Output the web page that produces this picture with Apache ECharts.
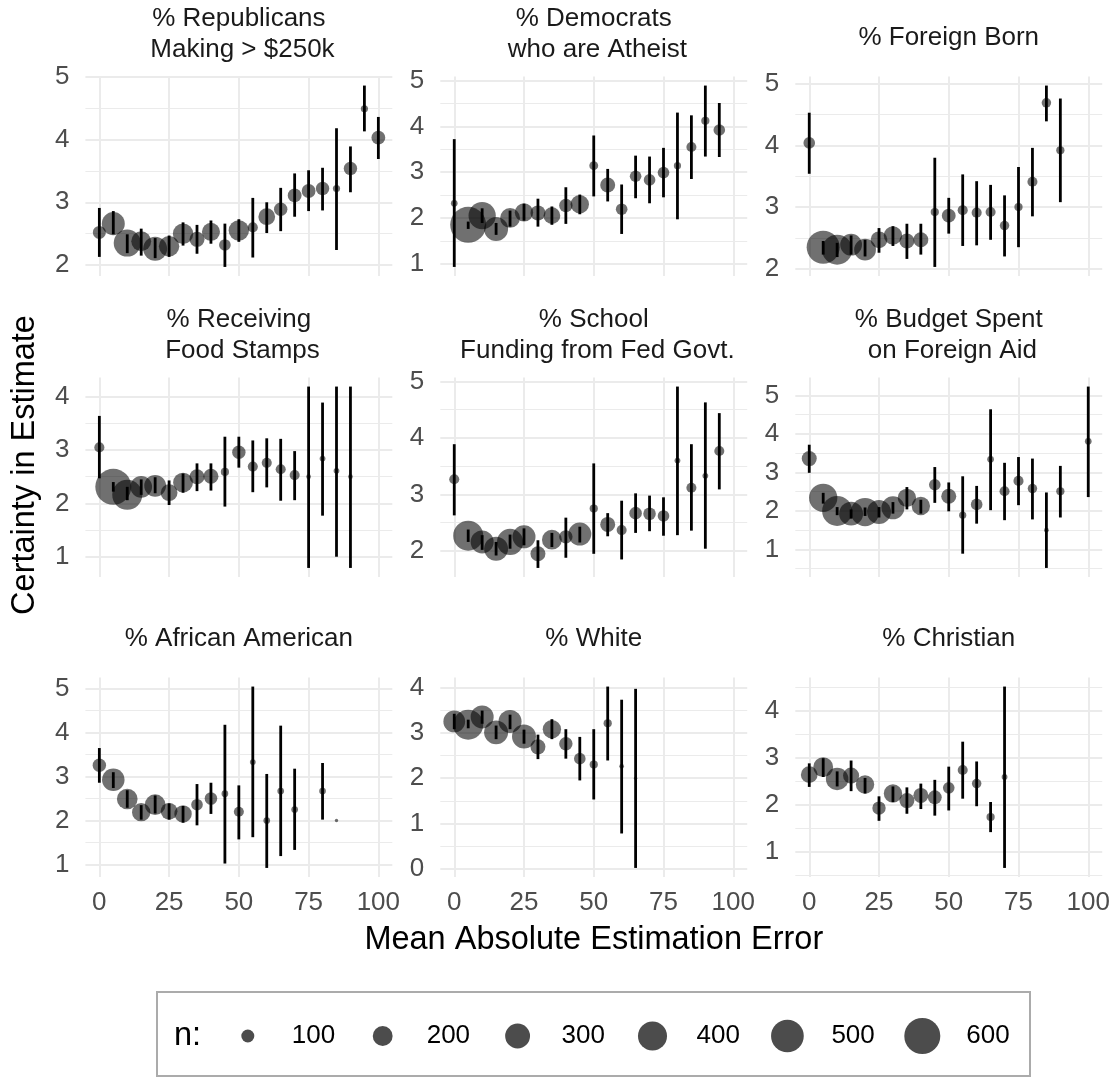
<!DOCTYPE html>
<html><head><meta charset="utf-8">
<script src="https://cdn.jsdelivr.net/npm/echarts@6/dist/echarts.min.js"></script>
<style>html,body{margin:0;padding:0;background:#fff}#c{width:1113px;height:1080px}</style>
</head><body><div id="c"></div>
<script>
// ---- data: rows are [x (mean abs. error bin), mean certainty, lower CI, upper CI, n] ----
const rep250k = [[0,2.52,2.13,2.91,100],[5,2.66,2.49,2.86,260],[10,2.35,2.19,2.49,350],[15,2.38,2.15,2.58,200],[20,2.26,2.11,2.43,280],[25,2.30,2.13,2.47,210],[30,2.50,2.31,2.68,210],[35,2.41,2.18,2.64,125],[40,2.53,2.34,2.71,170],[45,2.32,1.97,2.66,85],[50,2.55,2.37,2.73,210],[55,2.60,2.12,3.07,70],[60,2.77,2.51,3.00,150],[65,2.89,2.54,3.23,105],[70,3.11,2.77,3.46,110],[75,3.18,2.86,3.51,110],[80,3.22,2.87,3.55,105],[85,3.22,2.24,4.18,48],[90,3.54,3.16,3.89,105],[95,4.49,4.13,4.86,48],[100,4.03,3.69,4.36,110]];
const demAtheist = [[0,2.32,0.93,3.72,45],[5,1.85,1.76,1.92,600],[10,2.05,1.89,2.21,355],[15,1.76,1.63,1.89,280],[20,2.00,1.81,2.16,200],[25,2.12,1.94,2.31,175],[30,2.11,1.81,2.42,125],[35,2.05,1.85,2.25,150],[40,2.27,1.87,2.67,105],[45,2.30,2.08,2.51,175],[50,3.14,2.47,3.80,60],[55,2.72,2.36,3.07,125],[60,2.19,1.65,2.73,85],[65,2.91,2.43,3.36,85],[70,2.83,2.32,3.34,85],[75,2.99,2.45,3.53,85],[80,3.14,1.97,4.30,48],[85,3.55,2.85,4.24,70],[90,4.12,3.34,4.89,55],[95,3.92,3.33,4.51,85]];
const foreignBorn = [[0,4.04,3.54,4.53,85],[5,2.35,2.23,2.45,510],[10,2.31,2.19,2.42,425],[15,2.39,2.23,2.54,235],[20,2.31,2.20,2.47,235],[25,2.47,2.26,2.66,150],[30,2.54,2.37,2.69,175],[35,2.45,2.16,2.73,125],[40,2.47,2.23,2.73,125],[45,2.92,2.03,3.80,55],[50,2.86,2.57,3.15,110],[55,2.95,2.37,3.53,70],[60,2.91,2.38,3.42,70],[65,2.92,2.47,3.36,70],[70,2.70,2.20,3.19,65],[75,3.00,2.35,3.65,55],[80,3.41,2.85,3.96,70],[85,4.69,4.39,4.97,65],[90,3.92,3.08,4.76,55]];
const foodStamps = [[0,3.05,2.47,3.64,70],[5,2.31,2.22,2.40,600],[10,2.16,2.06,2.31,425],[15,2.31,2.16,2.45,235],[20,2.33,2.19,2.49,235],[25,2.20,1.97,2.43,150],[30,2.39,2.20,2.56,200],[35,2.50,2.23,2.75,125],[40,2.51,2.24,2.75,125],[45,2.59,1.94,3.25,55],[50,2.96,2.67,3.25,105],[55,2.69,2.21,3.18,70],[60,2.76,2.30,3.22,70],[65,2.64,2.05,3.21,70],[70,2.53,2.06,2.98,70],[75,2.50,0.79,4.19,35],[80,2.84,1.77,3.89,40],[85,2.61,1.00,4.19,40],[90,2.50,0.79,4.19,35]];
const schoolFunding = [[0,3.27,2.63,3.89,70],[5,2.27,2.16,2.38,425],[10,2.16,2.02,2.28,260],[15,2.04,1.92,2.16,280],[20,2.16,2.04,2.29,330],[25,2.25,2.10,2.40,260],[30,1.95,1.70,2.19,125],[35,2.20,2.07,2.32,200],[40,2.25,1.88,2.59,105],[45,2.30,2.15,2.43,260],[50,2.75,1.95,3.55,55],[55,2.47,2.26,2.67,125],[60,2.37,1.85,2.89,70],[65,2.67,2.32,3.02,95],[70,2.66,2.35,2.98,95],[75,2.62,2.27,2.95,85],[80,3.60,2.28,4.91,40],[85,3.12,2.36,3.89,70],[90,3.33,2.04,4.63,40],[95,3.77,3.09,4.44,70]];
const foreignAid = [[0,3.36,2.99,3.72,125],[5,2.34,2.19,2.47,380],[10,2.00,1.89,2.10,425],[15,1.93,1.80,2.04,280],[20,1.97,1.87,2.09,380],[25,1.97,1.83,2.10,280],[30,2.08,1.93,2.23,260],[35,2.34,2.04,2.62,175],[40,2.13,1.93,2.29,175],[45,2.68,2.21,3.14,85],[50,2.38,1.99,2.74,125],[55,1.89,0.89,2.90,48],[60,2.17,1.67,2.65,85],[65,3.34,2.02,4.64,45],[70,2.51,1.76,3.25,70],[75,2.78,2.15,3.40,70],[80,2.58,1.78,3.36,65],[85,1.50,0.52,2.48,35],[90,2.51,1.83,3.17,55],[100,3.81,2.36,5.23,45]];
const africanAmerican = [[0,3.26,2.86,3.65,105],[5,2.93,2.74,3.10,250],[10,2.49,2.29,2.69,215],[15,2.19,2.02,2.35,175],[20,2.36,2.16,2.57,215],[25,2.21,2.02,2.39,150],[30,2.15,1.95,2.33,160],[35,2.36,1.89,2.83,85],[40,2.50,2.15,2.86,95],[45,2.61,1.02,4.18,45],[50,2.20,1.57,2.80,70],[55,3.33,1.62,5.05,40],[60,2.00,0.92,3.06,45],[65,2.67,1.19,4.16,45],[70,2.25,1.33,3.18,45],[80,2.67,2.02,3.31,45],[85,2.00,2.00,2.00,30]];
const white = [[0,3.25,3.08,3.42,235],[5,3.18,3.10,3.29,425],[10,3.35,3.20,3.49,260],[15,3.01,2.86,3.16,280],[20,3.25,3.08,3.40,260],[25,2.92,2.76,3.07,280],[30,2.69,2.42,2.96,125],[35,3.08,2.86,3.30,175],[40,2.76,2.43,3.08,105],[45,2.43,1.95,2.91,85],[50,2.30,1.53,3.08,55],[55,3.21,2.39,4.02,55],[60,2.26,0.78,3.73,35],[65,2.00,0.02,3.97,30]];
const christian = [[0,2.64,2.38,2.88,150],[5,2.80,2.59,2.99,200],[10,2.55,2.39,2.71,250],[15,2.62,2.29,2.94,140],[20,2.43,2.24,2.57,175],[25,1.93,1.66,2.18,105],[30,2.24,2.06,2.39,175],[35,2.09,1.81,2.37,125],[40,2.20,1.91,2.45,125],[45,2.16,1.77,2.53,110],[50,2.36,1.88,2.81,85],[55,2.74,2.13,3.34,70],[60,2.45,1.97,2.92,65],[65,1.74,1.42,2.06,55],[70,2.59,0.66,4.51,40]];

const panelTitles = ["% Republicans\n Making > $250k", "% Democrats\n who are Atheist", "% Foreign Born",
  "% Receiving\n Food Stamps", "% School\n Funding from Fed Govt.", "% Budget Spent\n on Foreign Aid",
  "% African American", "% White", "% Christian"];
const xTicks = [0, 25, 50, 75, 100];
const legendN = [100, 200, 300, 400, 500, 600];
const xTitle = "Mean Absolute Estimation Error";
const yTitle = "Certainty in Estimate";
const legendTitle = "n:";

// ---- layout / style ----
const FONT = '"Liberation Sans", Arial, Helvetica, sans-serif';
const colLeft = [85.4, 440.3, 795.3], panelW = 306.9;
const rowTop = [76.5, 377.5, 677.5], panelH = 199.5;
const TICK_FS = 26, STRIP_FS = 26, TITLE_FS = 32.5;
const GRID_COL = '#EBEBEB';
// size scale: diameter^2 linear in n (area scale)
function sizeOf(n) {
  const d0 = 13, d1 = 36, n0 = 100, n1 = 600;
  const a = d0 * d0 + (n - n0) * (d1 * d1 - d0 * d0) / (n1 - n0);
  return Math.sqrt(Math.max(a, 9));
}

const panels = [rep250k, demAtheist, foreignBorn, foodStamps, schoolFunding, foreignAid, africanAmerican, white, christian];
const grids = [], xAxes = [], yMajor = [], yMinor = [], series = [], titles = [];

panels.forEach((rows, i) => {
  const r = Math.floor(i / 3), c = i % 3;
  grids.push({left: colLeft[c], top: rowTop[r], width: panelW, height: panelH, containLabel: false, outerBoundsMode: 'none'});
  let lo = Infinity, hi = -Infinity;
  rows.forEach(d => { lo = Math.min(lo, d[1], d[2]); hi = Math.max(hi, d[1], d[3]); });
  const pad = (hi - lo) * 0.05, ymin = lo - pad, ymax = hi + pad;
  const majors = [], minors = [];
  for (let v = Math.ceil(ymin); v <= ymax; v++) majors.push(v);
  for (let v = Math.floor(ymin) + 0.5; v <= ymax; v++) if (v >= ymin) minors.push(v);

  xAxes.push({
    type: 'value', gridIndex: i, min: -5, max: 105,
    axisLine: {show: false},
    axisTick: {show: false, customValues: xTicks},
    axisLabel: {show: r === 2, customValues: xTicks, fontFamily: FONT, fontSize: TICK_FS, color: '#4D4D4D', margin: 13},
    splitLine: {show: true, lineStyle: {color: GRID_COL, width: 2}}
  });
  yMajor.push({
    type: 'value', gridIndex: i, min: ymin, max: ymax,
    axisLine: {show: false},
    axisTick: {show: false, customValues: majors},
    axisLabel: {customValues: majors, fontFamily: FONT, fontSize: TICK_FS, color: '#4D4D4D', margin: 16},
    splitLine: {show: true, lineStyle: {color: GRID_COL, width: 2}}
  });
  yMinor.push({
    type: 'value', gridIndex: i, min: ymin, max: ymax, position: 'left',
    axisLine: {show: false},
    axisTick: {show: false, customValues: minors},
    axisLabel: {show: false},
    splitLine: {show: true, lineStyle: {color: GRID_COL, width: 1.2}}
  });

  series.push({
    type: 'scatter', xAxisIndex: i, yAxisIndex: i, z: 2,
    data: rows.map(d => [d[0], d[1], d[4]]),
    symbolSize: v => sizeOf(v[2]),
    itemStyle: {color: 'rgba(0,0,0,0.7)'},
    emphasis: {disabled: true}, silent: true
  });
  series.push({
    type: 'custom', xAxisIndex: i, yAxisIndex: i, z: 3, silent: true,
    data: rows,
    encode: {x: 0, y: [2, 3]},
    renderItem: (params, api) => {
      const p1 = api.coord([api.value(0), api.value(2)]);
      const p2 = api.coord([api.value(0), api.value(3)]);
      return {type: 'line', shape: {x1: p1[0], y1: p1[1], x2: p2[0], y2: p2[1]},
              style: {stroke: '#000', lineWidth: 2.8}};
    }
  });

  const twoLines = panelTitles[i].indexOf('\n') >= 0;
  titles.push({
    text: panelTitles[i], left: colLeft[c] + panelW / 2, top: rowTop[r] - (twoLines ? 42 : 39),
    textAlign: 'center', textVerticalAlign: 'middle', padding: 0,
    textStyle: {fontFamily: FONT, fontSize: STRIP_FS, fontWeight: 'normal', color: '#1A1A1A', lineHeight: 31}
  });
});

// legend (drawn as graphic, sizes from the same size scale)
const graphics = [];
graphics.push({type: 'rect', shape: {x: 157, y: 992, width: 873, height: 84},
  style: {fill: 'none', stroke: '#ABABAB', lineWidth: 2}, silent: true});
graphics.push({type: 'text', x: 174, y: 1036, style: {text: legendTitle, font: `${TITLE_FS}px ${FONT}`, fill: '#000', align: 'left', verticalAlign: 'middle'}});
legendN.forEach((n, k) => {
  const cx = 247.8 + k * 134.9;
  graphics.push({type: 'circle', shape: {cx: cx, cy: 1036, r: sizeOf(n) / 2}, style: {fill: 'rgba(0,0,0,0.7)'}, silent: true});
  graphics.push({type: 'text', x: cx + 44, y: 1036, style: {text: String(n), font: `${TICK_FS}px ${FONT}`, fill: '#000', align: 'left', verticalAlign: 'middle'}});
});
// axis titles
graphics.push({type: 'text', x: 593.8, y: 940, style: {text: xTitle, font: `${TITLE_FS}px ${FONT}`, fill: '#000', align: 'center', verticalAlign: 'middle'}});
graphics.push({type: 'text', x: 25, y: 465, rotation: Math.PI / 2, style: {text: yTitle, font: `${TITLE_FS}px ${FONT}`, fill: '#000', align: 'center', verticalAlign: 'middle'}});

const chart = echarts.init(document.getElementById('c'), null, {renderer: 'canvas', width: 1113, height: 1080});
chart.setOption({
  backgroundColor: '#fff',
  animation: false,
  title: titles,
  grid: grids,
  xAxis: xAxes,
  yAxis: yMajor.concat(yMinor),
  series: series,
  graphic: graphics
});
</script></body></html>
